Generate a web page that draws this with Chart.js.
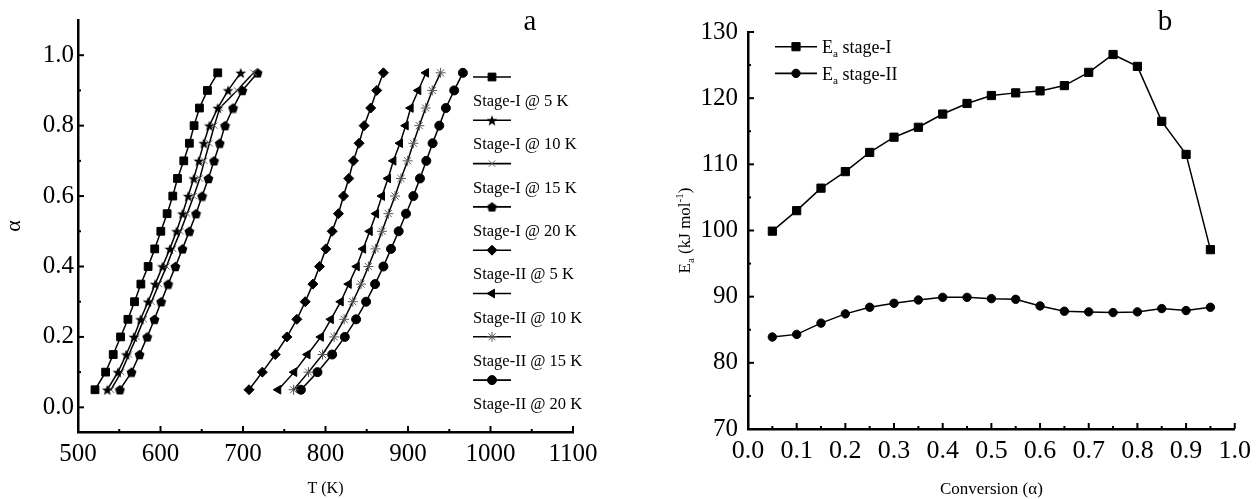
<!DOCTYPE html>
<html>
<head>
<meta charset="utf-8">
<script src="https://cdn.jsdelivr.net/npm/chart.js@4.4.1/dist/chart.umd.min.js"></script>
<style>
body{margin:0;background:#fff;width:1258px;height:499px;overflow:hidden;position:relative}
#wrapA{position:absolute;left:0;top:0;width:629px;height:499px}
#wrapB{position:absolute;left:629px;top:0;width:629px;height:499px}
</style>
</head>
<body>
<div id="wrapA"><canvas id="chartA" width="629" height="499"></canvas></div>
<div id="wrapB"><canvas id="chartB" width="629" height="499"></canvas></div>
<script>
// conversion steps (alpha) shared by every series
var alpha = [0.05,0.10,0.15,0.20,0.25,0.30,0.35,0.40,0.45,0.50,0.55,0.60,0.65,0.70,0.75,0.80,0.85,0.90,0.95];

// panel a : temperature (K) reached at each alpha
var s1_5K  = [520.6,533.5,542.7,551.6,560.5,568.5,576.2,585.0,593.0,600.4,608.0,614.9,620.6,628.2,635.0,640.7,647.2,656.9,669.4];
var s1_10K = [535.5,548.4,558.5,567.7,575.8,585.0,593.5,602.4,611.3,619.4,626.6,633.5,640.3,646.4,652.4,659.3,669.4,681.9,697.2];
var s1_15K = [540.0,552.4,561.7,571.0,579.8,589.1,598.0,607.3,615.3,624.2,632.3,640.3,647.6,653.2,659.3,665.3,671.8,692.7,712.9];
var s1_20K = [550.8,564.9,574.6,583.9,592.7,600.8,609.3,618.1,626.6,635.0,643.1,650.4,658.1,664.9,671.8,678.2,687.9,699.2,717.7];
var s2_5K  = [707.3,723.4,739.1,753.2,765.3,775.4,784.7,792.7,800.4,808.1,815.7,821.8,828.2,833.9,840.7,846.8,854.8,862.1,870.2];
var s2_10K = [742.7,762.1,778.2,794.4,806.5,818.5,828.2,837.9,845.6,853.6,861.3,868.5,875.8,882.3,890.3,897.2,903.2,912.5,921.8];
var s2_15K = [761.3,779.4,796.4,810.5,822.6,833.1,843.1,852.0,860.5,868.5,876.2,884.3,891.5,899.6,906.5,913.7,921.4,929.4,939.5];
var s2_20K = [770.2,790.3,808.1,823.4,837.1,849.2,860.1,870.2,879.4,888.7,897.6,906.5,914.5,922.2,929.8,937.9,945.9,956.0,966.5];
var seriesNamesA = ['Stage-I @ 5 K','Stage-I @ 10 K','Stage-I @ 15 K','Stage-I @ 20 K',
                    'Stage-II @ 5 K','Stage-II @ 10 K','Stage-II @ 15 K','Stage-II @ 20 K'];

// panel b : activation energy (kJ/mol) vs conversion
var eaStage1 = [99.9,103.0,106.4,108.9,111.8,114.1,115.6,117.6,119.2,120.4,120.8,121.1,121.9,123.9,126.6,124.8,116.5,111.5,97.1];
var eaStage2 = [83.9,84.3,86.0,87.4,88.4,89.0,89.5,89.9,89.9,89.7,89.6,88.6,87.8,87.7,87.6,87.7,88.2,87.9,88.4];
var seriesNamesB = ['stage-I','stage-II'];

var FAM = "'Liberation Serif','Times New Roman',serif";

function makeMarker(kind, size) {
  var c = document.createElement('canvas');
  c.width = size; c.height = size;
  var g = c.getContext('2d');
  var cx = size / 2, cy = size / 2, R = size / 2 - 0.3;
  g.fillStyle = '#000';
  g.beginPath();
  var i, ang, r;
  if (kind === 'star') {
    for (i = 0; i < 10; i++) {
      r = (i % 2) ? R * 0.42 : R;
      ang = -Math.PI / 2 + i * Math.PI / 5;
      g.lineTo(cx + r * Math.cos(ang), cy + 0.6 + r * Math.sin(ang));
    }
  } else {
    for (i = 0; i < 5; i++) {
      ang = -Math.PI / 2 + i * 2 * Math.PI / 5;
      g.lineTo(cx + R * Math.cos(ang), cy + 0.5 + R * Math.sin(ang));
    }
  }
  g.closePath();
  g.fill();
  return c;
}
var starImg = makeMarker('star', 12);
var pentImg = makeMarker('pent', 11);

function pts(xs, ys) {
  var out = [];
  for (var i = 0; i < xs.length; i++) out.push({x: xs[i], y: ys[i]});
  return out;
}

function ds(label, data, style) {
  return {
    label: label,
    data: data,
    borderColor: '#000',
    backgroundColor: '#000',
    borderWidth: 1.5,
    tension: 0,
    fill: false,
    pointStyle: style.pointStyle,
    pointRadius: style.radius,
    pointRotation: style.rotation || 0,
    pointBorderWidth: style.bw || 1,
    pointBackgroundColor: style.fill || '#000',
    pointBorderColor: style.stroke || '#000'
  };
}

var stylesA = [
  {pointStyle: 'rect', radius: 5.5},
  {pointStyle: starImg, radius: 6},
  {pointStyle: 'crossRot', radius: 4.5, stroke: '#666', bw: 1},
  {pointStyle: pentImg, radius: 5.5},
  {pointStyle: 'rectRot', radius: 5},
  {pointStyle: 'triangle', radius: 5, rotation: -90},
  {pointStyle: 'star', radius: 5, stroke: '#555', bw: 1},
  {pointStyle: 'circle', radius: 4.5}
];
var tempsA = [s1_5K, s1_10K, s1_15K, s1_20K, s2_5K, s2_10K, s2_15K, s2_20K];
var datasetsA = [];
for (var k = 0; k < tempsA.length; k++) {
  datasetsA.push(ds(seriesNamesA[k], pts(tempsA[k], alpha), stylesA[k]));
}

var stylesB = [
  {pointStyle: 'rect', radius: 5.8},
  {pointStyle: 'circle', radius: 4.2}
];
var datasetsB = [
  ds(seriesNamesB[0], pts(alpha, eaStage1), stylesB[0]),
  ds(seriesNamesB[1], pts(alpha, eaStage2), stylesB[1])
];

function richText(ctx, parts, x, y, rot, center) {
  ctx.save();
  ctx.translate(x, y);
  ctx.rotate(rot || 0);
  ctx.textBaseline = 'alphabetic';
  ctx.textAlign = 'left';
  var total = 0;
  parts.forEach(function(p) {
    ctx.font = p.size + 'px ' + FAM;
    p.w = ctx.measureText(p.t).width;
    total += p.w;
  });
  var cx = center ? -total / 2 : 0;
  parts.forEach(function(p) {
    ctx.font = p.size + 'px ' + FAM;
    ctx.fillText(p.t, cx, p.dy || 0);
    cx += p.w;
  });
  ctx.restore();
}

// inward major/minor ticks, axis titles, panel letters, legends
var decor = {
  id: 'decor',
  afterDraw: function(chart, args, o) {
    var ctx = chart.ctx, a = chart.chartArea;
    var xs = chart.scales.x, ys = chart.scales.y;
    ctx.save();
    ctx.strokeStyle = '#000';
    ctx.lineWidth = 2;
    function tickSet(scale, horiz) {
      var vals = scale.ticks.map(function(t) { return t.value; });
      var i, p, m;
      for (i = 0; i < vals.length; i++) {
        p = scale.getPixelForValue(vals[i]);
        ctx.beginPath();
        if (horiz) { ctx.moveTo(p, a.bottom); ctx.lineTo(p, a.bottom - 6); }
        else { ctx.moveTo(a.left, p); ctx.lineTo(a.left + 6, p); }
        ctx.stroke();
        if (i < vals.length - 1) {
          m = scale.getPixelForValue((vals[i] + vals[i + 1]) / 2);
          ctx.beginPath();
          if (horiz) { ctx.moveTo(m, a.bottom); ctx.lineTo(m, a.bottom - 3); }
          else { ctx.moveTo(a.left, m); ctx.lineTo(a.left + 3, m); }
          ctx.stroke();
        }
      }
    }
    tickSet(xs, true);
    tickSet(ys, false);
    ctx.restore();

    ctx.save();
    ctx.fillStyle = '#000';
    var midX = (a.left + a.right) / 2, midY = (a.top + a.bottom) / 2;
    richText(ctx, o.xTitle, midX, o.xTitleY, 0, true);
    richText(ctx, o.yTitle, o.yTitleX, midY, -Math.PI / 2, true);
    ctx.font = '29px ' + FAM;
    ctx.textAlign = 'center';
    ctx.textBaseline = 'middle';
    ctx.fillText(o.letter, o.letterX, o.letterY);

    // legend
    var lg = o.legend;
    chart.data.datasets.forEach(function(d, i) {
      var ly = lg.lineY + i * lg.step;
      ctx.strokeStyle = '#000';
      ctx.lineWidth = 1.6;
      ctx.beginPath();
      ctx.moveTo(lg.x0, ly);
      ctx.lineTo(lg.x1, ly);
      ctx.stroke();
      ctx.fillStyle = d.pointBackgroundColor;
      ctx.strokeStyle = d.pointBorderColor;
      ctx.lineWidth = d.pointBorderWidth;
      Chart.helpers.drawPoint(ctx, {
        pointStyle: d.pointStyle, rotation: d.pointRotation,
        radius: d.pointRadius, borderWidth: d.pointBorderWidth
      }, (lg.x0 + lg.x1) / 2, ly);
      ctx.fillStyle = '#000';
      var ty = lg.textY + i * lg.step;
      if (lg.sub) {
        richText(ctx, [{t: 'E', size: lg.size}, {t: 'a', size: lg.size * 0.62, dy: 4},
                       {t: ' ' + d.label, size: lg.size}], lg.textX, ty, 0, false);
      } else {
        richText(ctx, [{t: d.label, size: lg.size}], lg.textX, ty, 0, false);
      }
    });
    ctx.restore();
  }
};

function axis(min, max, step, size, pad, fitFn, fmt) {
  return {
    type: 'linear',
    min: min,
    max: max,
    grid: {display: false, drawTicks: false},
    border: {display: true, color: '#000', width: 2.5},
    ticks: {
      stepSize: step,
      includeBounds: false,
      color: '#000',
      padding: pad,
      maxRotation: 0,
      autoSkip: false,
      font: {family: FAM, size: size},
      callback: fmt
    },
    afterFit: fitFn
  };
}

var chartA = new Chart(document.getElementById('chartA'), {
  type: 'line',
  data: {datasets: datasetsA},
  plugins: [decor],
  options: {
    responsive: false,
    animation: false,
    layout: {padding: {left: 0, right: 56, top: 20, bottom: 0}},
    scales: {
      x: axis(500, 1100, 100, 25, 7, function(s) { s.height = 67; }, function(v) { return v; }),
      y: axis(-0.07, 1.1, 0.2, 25, 4, function(s) { s.width = 78; }, function(v) { return v.toFixed(1); })
    },
    plugins: {
      legend: {display: false},
      tooltip: {enabled: false},
      decor: {
        xTitle: [{t: 'T (K)', size: 16}], xTitleY: 493,
        yTitle: [{t: 'α', size: 22}], yTitleX: 20,
        letter: 'a', letterX: 530, letterY: 22,
        legend: {x0: 473, x1: 511, lineY: 77, textX: 473, textY: 106, step: 43.3, size: 16.5}
      }
    }
  }
});

var chartB = new Chart(document.getElementById('chartB'), {
  type: 'line',
  data: {datasets: datasetsB},
  plugins: [decor],
  options: {
    responsive: false,
    animation: false,
    layout: {padding: {left: 0, right: 17, top: 32, bottom: 0}},
    scales: {
      x: axis(0, 1, 0.1, 26, 7, function(s) { s.height = 70; }, function(v) { return v.toFixed(1); }),
      y: axis(70, 130, 10, 25, 10, function(s) { s.width = 119; }, function(v) { return v; })
    },
    plugins: {
      legend: {display: false},
      tooltip: {enabled: false},
      decor: {
        xTitle: [{t: 'Conversion (α)', size: 17}], xTitleY: 494,
        yTitle: [{t: 'E', size: 17}, {t: 'a', size: 11, dy: 4}, {t: ' (kJ mol', size: 17},
                 {t: '-1', size: 11, dy: -7}, {t: ')', size: 17}], yTitleX: 61,
        letter: 'b', letterX: 536, letterY: 22,
        legend: {x0: 146, x1: 188, lineY: 46.7, textX: 193, textY: 53, step: 26.7, size: 18, sub: true}
      }
    }
  }
});
</script>
</body>
</html>
